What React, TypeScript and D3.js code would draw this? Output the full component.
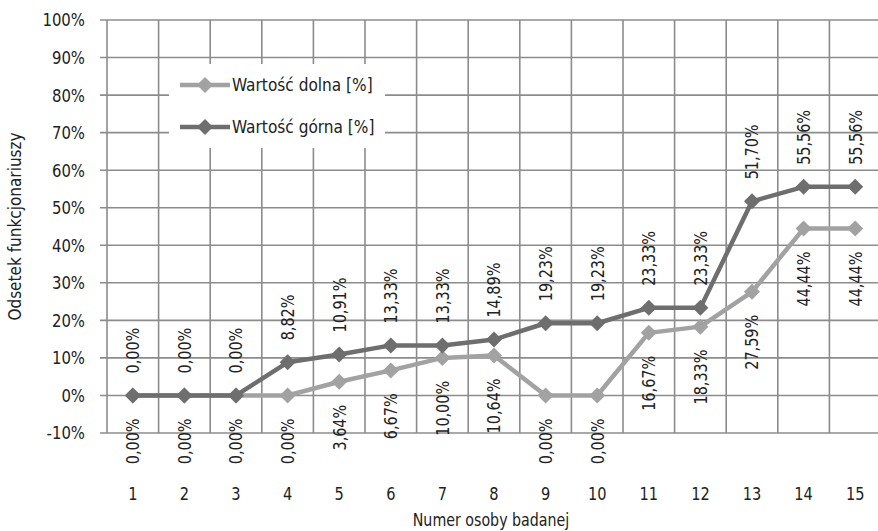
import React from "react";
import * as d3 from "d3";

const categories = ["1", "2", "3", "4", "5", "6", "7", "8", "9", "10", "11", "12", "13", "14", "15"];
const dolna = [0, 0, 0, 0, 3.64, 6.67, 10.0, 10.64, 0, 0, 16.67, 18.33, 27.59, 44.44, 44.44];
const gorna = [0, 0, 0, 8.82, 10.91, 13.33, 13.33, 14.89, 19.23, 19.23, 23.33, 23.33, 51.7, 55.56, 55.56];
const yTicks = [-10, 0, 10, 20, 30, 40, 50, 60, 70, 80, 90, 100];
const seriesNames = ["Wartość dolna [%]", "Wartość górna [%]"];

const W = 878;
const H = 531;
const FONT = "'DejaVu Sans Condensed', 'DejaVu Sans', sans-serif";
const GRID = "#8c8c8c";
const C_DOLNA = "#a2a2a2";
const C_GORNA = "#6e6e6e";
const TXT = "#222";

const fmt = (v: number) => v.toFixed(2).replace(".", ",") + "%";

export default function App() {
  const left = 107;
  const bandW = 51.6;
  const x = d3.scaleBand<string>().domain(categories).range([left, left + bandW * categories.length]);
  const y = d3.scaleLinear().domain([-10, 100]).range([433, 20]);
  const cx = (c: string) => (x(c) as number) + x.bandwidth() / 2;

  const line = d3
    .line<number>()
    .x((_, i) => cx(categories[i]))
    .y((d) => y(d));

  const diamond = (px: number, py: number, r: number) =>
    `M${px},${py - r}L${px + r},${py}L${px},${py + r}L${px - r},${py}Z`;

  const series = [
    { name: seriesNames[0], data: dolna, color: C_DOLNA, above: false },
    { name: seriesNames[1], data: gorna, color: C_GORNA, above: true },
  ];

  const plotRight = left + bandW * categories.length;

  return (
    <svg width={W} height={H} style={{ position: "absolute", left: 0, top: 0, background: "#fff" }}>
      <rect x={0} y={0} width={W} height={H} fill="#fff" />
      {yTicks.map((t) => (
        <line key={"h" + t} x1={100} x2={plotRight} y1={y(t)} y2={y(t)} stroke={GRID} strokeWidth={1.6} />
      ))}
      {categories.map((c) => (
        <line
          key={"v" + c}
          x1={x(c) as number}
          x2={x(c) as number}
          y1={y(100)}
          y2={y(-10)}
          stroke={GRID}
          strokeWidth={1.6}
        />
      ))}
      <line x1={plotRight} x2={plotRight} y1={y(100)} y2={y(-10)} stroke={GRID} strokeWidth={1.6} />
      {yTicks.map((t) => (
        <text
          key={"yl" + t}
          transform={`translate(85,${y(t)}) scale(0.92,1)`}
          dy="0.36em"
          textAnchor="end"
          fontFamily={FONT}
          fontSize={18}
          fill={TXT}
        >
          {t + "%"}
        </text>
      ))}
      {categories.map((c) => (
        <text
          key={"xl" + c}
          transform={`translate(${cx(c)},500) scale(0.9,1)`}
          textAnchor="middle"
          fontFamily={FONT}
          fontSize={18}
          fill={TXT}
        >
          {c}
        </text>
      ))}
      <text
        transform={`translate(491,526) scale(0.93,1)`}
        textAnchor="middle"
        fontFamily={FONT}
        fontSize={17}
        fill={TXT}
      >
        Numer osoby badanej
      </text>
      <text
        transform={`translate(15,${(y(100) + y(-10)) / 2}) rotate(-90)`}
        dy="0.36em"
        textAnchor="middle"
        fontFamily={FONT}
        fontSize={17}
        fill={TXT}
      >
        Odsetek funkcjonariuszy
      </text>
      {series.map((s) => (
        <g key={s.name}>
          <path d={line(s.data) as string} fill="none" stroke={s.color} strokeWidth={4.5} strokeLinejoin="round" />
          {s.data.map((v, i) => (
            <path key={i} d={diamond(cx(categories[i]), y(v), 8)} fill={s.color} />
          ))}
        </g>
      ))}
      {series.map((s) => (
        <g key={"lbl" + s.name}>
          {s.data.map((v, i) => {
            const px = cx(categories[i]);
            const py = s.above ? y(v) - 22 : y(v) + 23;
            return (
              <text
                key={i}
                transform={`translate(${px},${py}) rotate(-90) scale(0.89,1)`}
                dy="0.36em"
                textAnchor={s.above ? "start" : "end"}
                fontFamily={FONT}
                fontSize={18}
                fill={TXT}
              >
                {fmt(v)}
              </text>
            );
          })}
        </g>
      ))}
      <rect x={169} y={64} width={216} height={84} fill="#fff" />
      {series.map((s, i) => {
        const ly = 85 + i * 42;
        return (
          <g key={"leg" + s.name}>
            <line x1={180} x2={230} y1={ly} y2={ly} stroke={s.color} strokeWidth={4.5} />
            <path d={diamond(205, ly, 8)} fill={s.color} />
            <text
              transform={`translate(232,${ly}) scale(0.95,1)`}
              dy="0.36em"
              fontFamily={FONT}
              fontSize={18}
              fill={TXT}
            >
              {s.name}
            </text>
          </g>
        );
      })}
    </svg>
  );
}
